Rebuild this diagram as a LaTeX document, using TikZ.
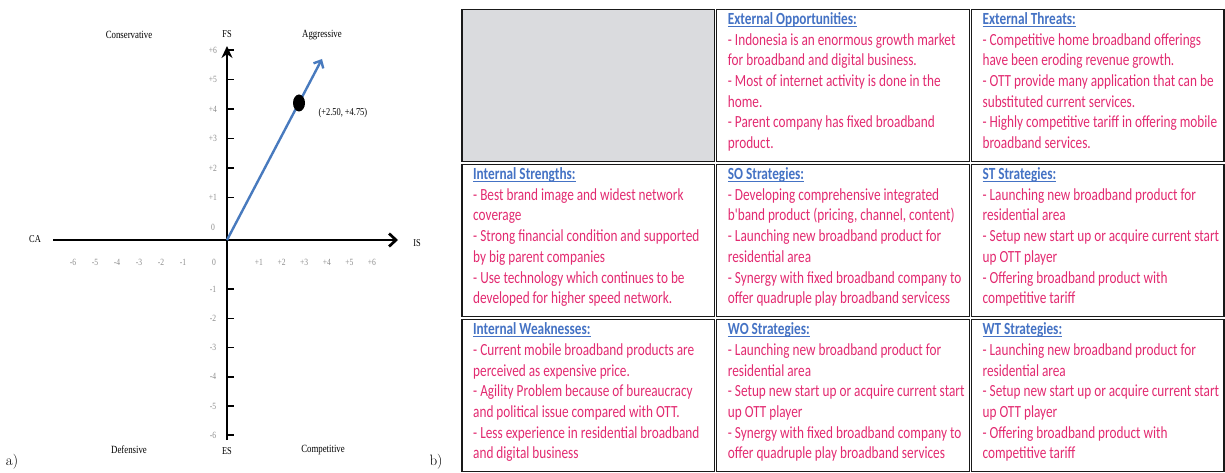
\documentclass[tikz,border=0pt]{standalone}
\usepackage{fontspec}
\usepackage{tikz}
\usetikzlibrary{shapes.geometric, arrows.meta, positioning, calc}
\newfontfamily\swotfont[FakeStretch=0.78]{Carlito}
\newfontfamily\plotfont[FakeStretch=0.8]{Liberation Serif}
\definecolor{ttlblue}{RGB}{68,114,196}
\definecolor{txtpink}{RGB}{226,42,112}
\definecolor{cellgray}{RGB}{218,219,222}
\definecolor{vecblue}{RGB}{72,122,190}
\newcommand{\celltitle}[1]{\strut{\bfseries\color{ttlblue}\setbox0\hbox{#1}\rlap{\rule[-2.4pt]{\wd0}{0.9pt}}\box0}}
\tikzset{
    cellbox/.style={rectangle, draw=black!90, line width=1.4pt, minimum width=252.5pt, minimum height=152.1pt, inner sep=0pt, outer sep=0pt},
    celltext/.style={anchor=north west, inner sep=0pt, align=left, text=txtpink, font=\swotfont\fontsize{17}{20.7}\selectfont},
    quadlbl/.style={font=\plotfont\fontsize{11}{11}\selectfont},
    axislbl/.style={font=\plotfont\fontsize{10.5}{10.5}\selectfont},
    ticklbl/.style={font=\plotfont\fontsize{9.5}{9.5}\selectfont, text=black!45},
}

\begin{document}
\begin{tikzpicture}[
    x=1pt, y=-1pt,
    axis/.style={line width=2.7pt, black},
    tick/.style={line width=1.6pt, black},
    subfig/.style={font=\fontsize{15}{15}\selectfont},
    >=Stealth
]
\useasboundingbox (0,0) rectangle (1225,473);

% a) Space matrix: axes
\coordinate (org) at (227,240);
\coordinate (xl) at (53,240);
\coordinate (xr) at (398,240);
\coordinate (yt) at (227,46);
\coordinate (yb) at (227,440);
\draw[axis, -{Straight Barb[length=7pt, width=13pt]}] (xl) -- (xr);
\draw[axis, -{Stealth[length=12pt, width=11pt]}] (yb) -- (yt);

\node[axislbl] (lblca) at (35,239) {CA};
\node[axislbl] (lblis) at (417,243) {IS};
\node[axislbl] (lblfs) at (227,34) {FS};
\node[axislbl] (lbles) at (227,451) {ES};

% Ticks and tick labels
\foreach \i in {1,...,6} {
    \draw[tick] (227,{227-29.5*\i}) -- ++(7,0);
    \draw[tick] (227,{260+29.2*\i}) -- ++(7,0);
    \node[ticklbl] (vp\i) at (213,{227-29.5*\i}) {+\i};
    \node[ticklbl] (vn\i) at (213,{260+29.2*\i}) {-\i};
    \node[ticklbl] (hn\i) at ({73+22*(6-\i)},262) {-\i};
    \node[ticklbl] (hp\i) at ({259+22.6*(\i-1)},262) {+\i};
}
\node[ticklbl] (v0) at (213,227) {0};
\node[ticklbl] (h0) at (214,262) {0};

% Quadrants
\node[quadlbl] (con) at (129,35) {Conservative};
\node[quadlbl] (agg) at (322,35) {Aggressive};
\node[quadlbl] (def) at (129,450) {Defensive};
\node[quadlbl] (com) at (323,450) {Competitive};

% Position vector
\coordinate (vtip) at (322,59);
\draw[line width=2.4pt, vecblue, -{Straight Barb[length=6pt, width=11pt]}] (org) -- (vtip);
\node[ellipse, fill=black, minimum width=12pt, minimum height=17pt, inner sep=0pt] (pos) at (299,103) {};
\node[axislbl, anchor=west] (posl) at (315,113) {(+2.50, +4.75)};

\node[subfig] (sa) at (12,462) {a)};
\node[subfig] (sb) at (436,462) {b)};

% b) SWOT matrix: cells
\node[cellbox, fill=cellgray, anchor=north west] (blank) at (462,9.3) {};
\node[cellbox, right=2.2pt of blank] (eo) {};
\node[cellbox, right=2.2pt of eo] (et) {};
\node[cellbox, below=3pt of blank] (istr) {};
\node[cellbox, right=2.2pt of istr] (so) {};
\node[cellbox, right=2.2pt of so] (st) {};
\node[cellbox, below=3pt of istr] (iwk) {};
\node[cellbox, right=2.2pt of iwk] (wo) {};
\node[cellbox, right=2.2pt of wo] (wt) {};

% Cell texts
\node[celltext] (eotxt) at ($(eo.north west)+(11,0.5)$) {\celltitle{External Opportunities:}\\
- Indonesia is an enormous growth market\\
for broadband and digital business.\\
- Most of internet activity is done in the\\
home.\\
- Parent company has fixed broadband\\
product.};
\node[celltext] (ettxt) at ($(et.north west)+(11,0.5)$) {\celltitle{External Threats:}\\
- Competitive home broadband offerings\\
have been eroding revenue growth.\\
- OTT provide many application that can be\\
substituted current services.\\
- Highly competitive tariff in offering mobile\\
broadband services.};
\node[celltext] (istxt) at ($(istr.north west)+(11,0.5)$) {\celltitle{Internal Strengths:}\\
- Best brand image and widest network\\
coverage\\
- Strong financial condition and supported\\
by big parent companies\\
- Use technology which continues to be\\
developed for higher speed network.};
\node[celltext] (sotxt) at ($(so.north west)+(11,0.5)$) {\celltitle{SO Strategies:}\\
- Developing comprehensive integrated\\
b'band product (pricing, channel, content)\\
- Launching new broadband product for\\
residential area\\
- Synergy with fixed broadband company to\\
offer quadruple play broadband servicess};
\node[celltext] (sttxt) at ($(st.north west)+(11,0.5)$) {\celltitle{ST Strategies:}\\
- Launching new broadband product for\\
residential area\\
- Setup new start up or acquire current start\\
up OTT player\\
- Offering broadband product with\\
competitive tariff};
\node[celltext] (iwtxt) at ($(iwk.north west)+(11,0.5)$) {\celltitle{Internal Weaknesses:}\\
- Current mobile broadband products are\\
perceived as expensive price.\\
- Agility Problem because of bureaucracy\\
and political issue compared with OTT.\\
- Less experience in residential broadband\\
and digital business};
\node[celltext] (wotxt) at ($(wo.north west)+(11,0.5)$) {\celltitle{WO Strategies:}\\
- Launching new broadband product for\\
residential area\\
- Setup new start up or acquire current start\\
up OTT player\\
- Synergy with fixed broadband company to\\
offer quadruple play broadband services};
\node[celltext] (wttxt) at ($(wt.north west)+(11,0.5)$) {\celltitle{WT Strategies:}\\
- Launching new broadband product for\\
residential area\\
- Setup new start up or acquire current start\\
up OTT player\\
- Offering broadband product with\\
competitive tariff};

\end{tikzpicture}
\end{document}
